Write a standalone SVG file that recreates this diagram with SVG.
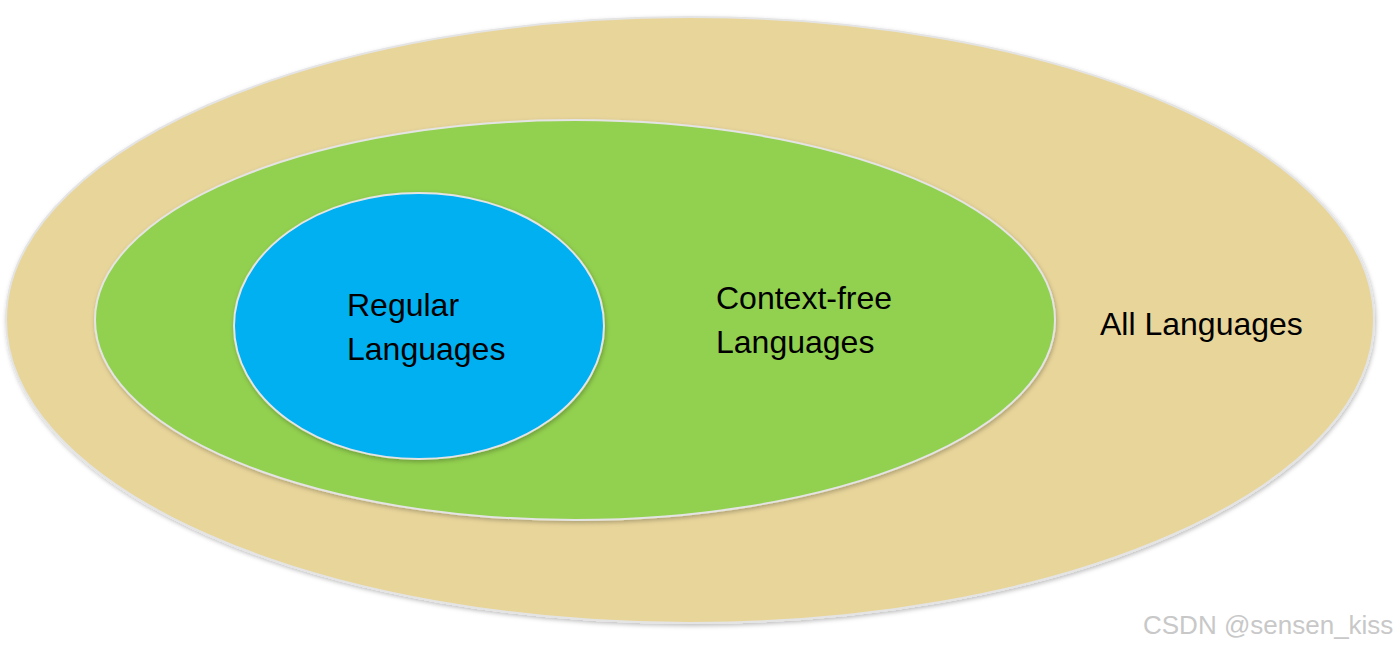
<svg xmlns="http://www.w3.org/2000/svg" width="1400" height="650" viewBox="0 0 1400 650">
<defs>
<filter id="sh" x="-5%" y="-5%" width="110%" height="110%">
<feDropShadow dx="1" dy="2" stdDeviation="2" flood-color="#000" flood-opacity="0.25"/>
</filter>
</defs>
<style>
.set{stroke:#e4e4e4;stroke-width:2;filter:url(#sh)}
.lbl{font-family:"Liberation Sans",Arial,sans-serif;font-size:32px;fill:#000}
.wm{font-family:"Liberation Sans",Arial,sans-serif;font-size:26px;fill:#c8c8c8}
</style>
<rect width="1400" height="650" fill="#ffffff"/>
<g id="all">
<ellipse class="set" cx="690" cy="320" rx="684" ry="303" fill="#E8D59A"/>
<text class="lbl" x="1100" y="335">All Languages</text>
</g>
<g id="cfl">
<ellipse class="set" cx="575" cy="320" rx="480" ry="200" fill="#92D050"/>
<text class="lbl" x="716" y="309">Context-free</text>
<text class="lbl" x="716" y="353">Languages</text>
</g>
<g id="regular">
<ellipse class="set" cx="419" cy="326" rx="185" ry="133" fill="#00B0F0"/>
<text class="lbl" x="347" y="316">Regular</text>
<text class="lbl" x="347" y="360">Languages</text>
</g>
<g id="connectors"/>
<text class="wm" x="1143" y="634">CSDN @sensen_kiss</text>
</svg>
